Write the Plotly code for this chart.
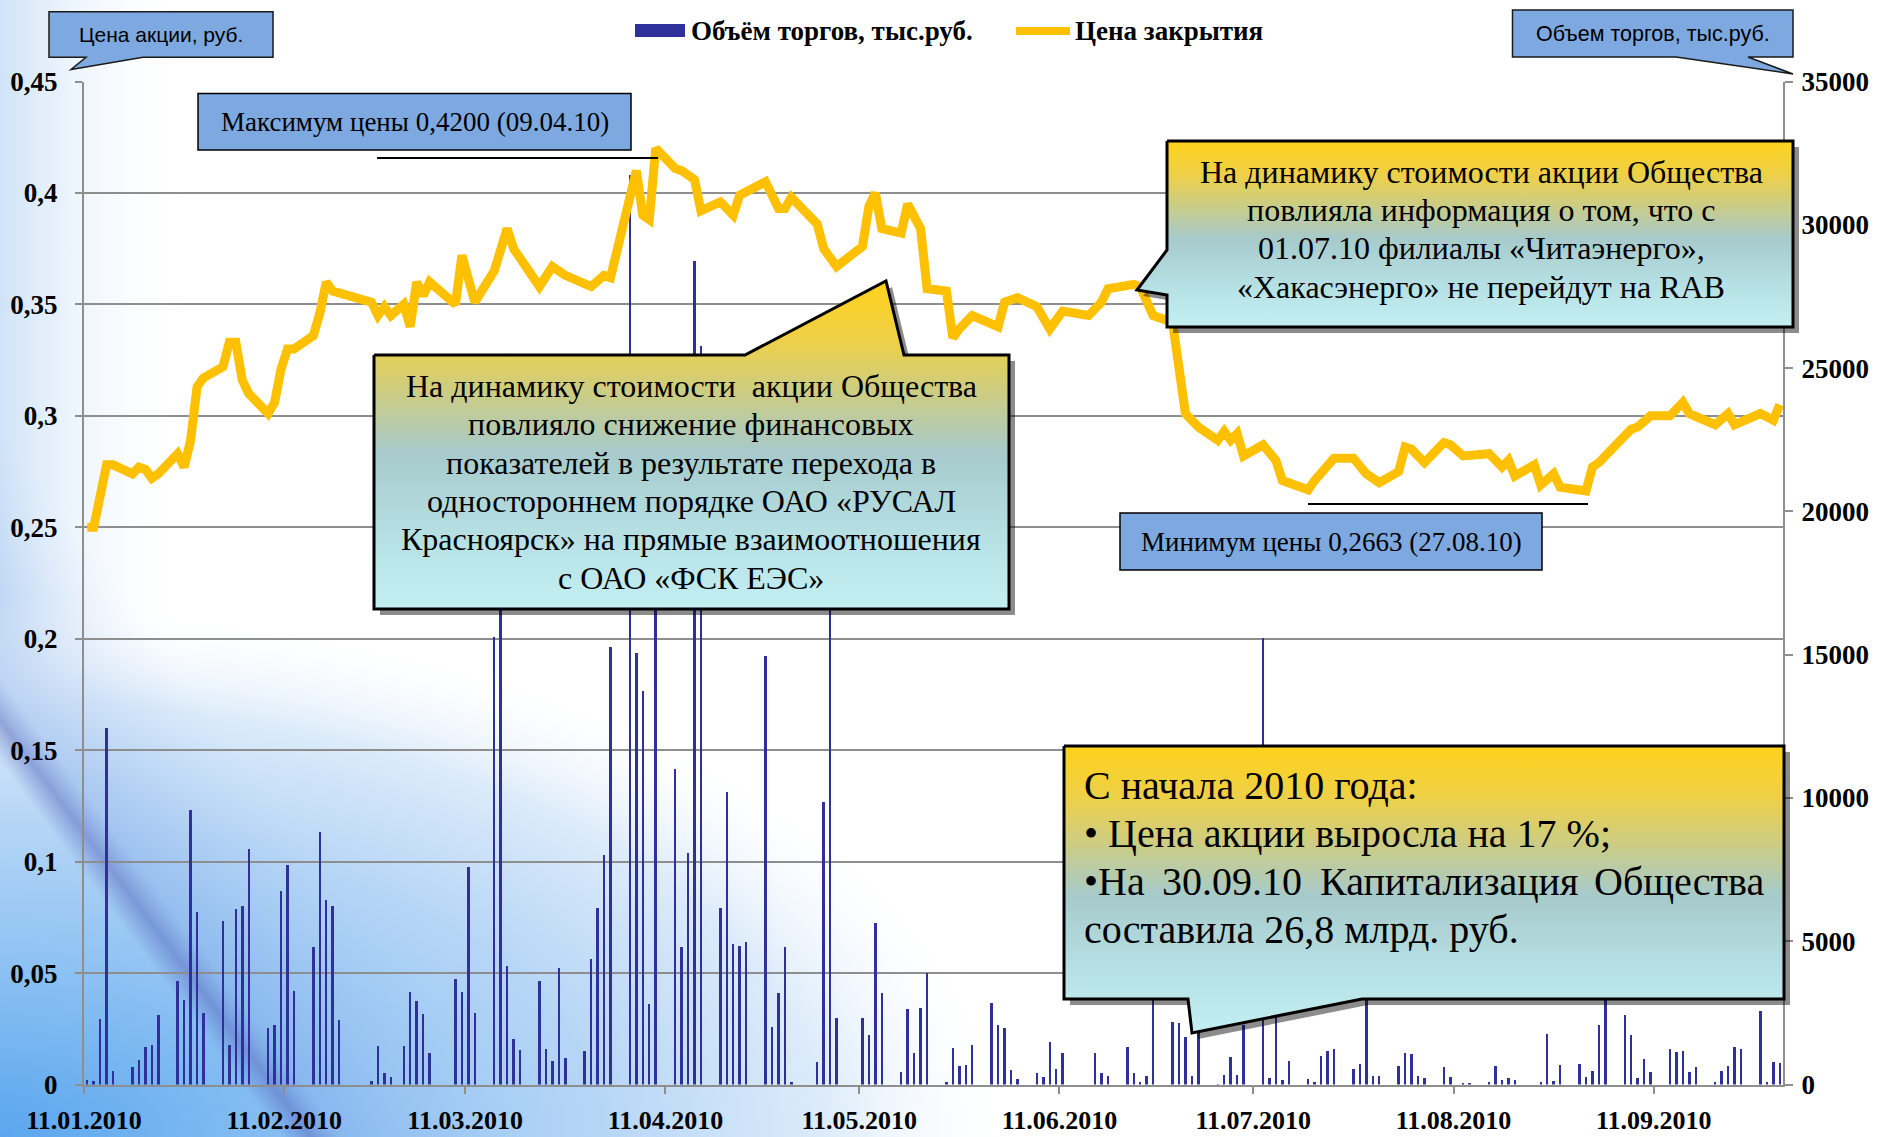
import base64
import plotly.graph_objects as go

# ---------------- data ----------------
price_dates = [
    "2010-01-11", "2010-01-12", "2010-01-14", "2010-01-15", "2010-01-18", "2010-01-19", "2010-01-20",
    "2010-01-21", "2010-01-22", "2010-01-25", "2010-01-26", "2010-01-27", "2010-01-28", "2010-01-29",
    "2010-02-01", "2010-02-02", "2010-02-03", "2010-02-04", "2010-02-05", "2010-02-08", "2010-02-09",
    "2010-02-10", "2010-02-11", "2010-02-12", "2010-02-15", "2010-02-16", "2010-02-17", "2010-02-18",
    "2010-02-24", "2010-02-25", "2010-02-26", "2010-02-27", "2010-03-01", "2010-03-02", "2010-03-03",
    "2010-03-04", "2010-03-05", "2010-03-09", "2010-03-10", "2010-03-12", "2010-03-15", "2010-03-17",
    "2010-03-18", "2010-03-22", "2010-03-24", "2010-03-26", "2010-03-30", "2010-04-01", "2010-04-02",
    "2010-04-06", "2010-04-07", "2010-04-08", "2010-04-09", "2010-04-12", "2010-04-13", "2010-04-15",
    "2010-04-16", "2010-04-19", "2010-04-21", "2010-04-22", "2010-04-26", "2010-04-28", "2010-04-29",
    "2010-04-30", "2010-05-04", "2010-05-05", "2010-05-07", "2010-05-11", "2010-05-12", "2010-05-13",
    "2010-05-14", "2010-05-17", "2010-05-18", "2010-05-20", "2010-05-21", "2010-05-24", "2010-05-25",
    "2010-05-26", "2010-05-28", "2010-06-01", "2010-06-02", "2010-06-04", "2010-06-07", "2010-06-09",
    "2010-06-11", "2010-06-15", "2010-06-17", "2010-06-18", "2010-06-22", "2010-06-23", "2010-06-25",
    "2010-06-28", "2010-06-30", "2010-07-02", "2010-07-05", "2010-07-06", "2010-07-07", "2010-07-08",
    "2010-07-09", "2010-07-12", "2010-07-14", "2010-07-15", "2010-07-19", "2010-07-20", "2010-07-23",
    "2010-07-26", "2010-07-28", "2010-07-30", "2010-08-02", "2010-08-03", "2010-08-04", "2010-08-06",
    "2010-08-09", "2010-08-10", "2010-08-12", "2010-08-16", "2010-08-18", "2010-08-19", "2010-08-20",
    "2010-08-23", "2010-08-24", "2010-08-26", "2010-08-27", "2010-08-30", "2010-08-31", "2010-09-01",
    "2010-09-02", "2010-09-07", "2010-09-08", "2010-09-10", "2010-09-13", "2010-09-15", "2010-09-16",
    "2010-09-20", "2010-09-22", "2010-09-23", "2010-09-27", "2010-09-29", "2010-09-30",
]
price_values = [
    0.250, 0.250, 0.278, 0.278, 0.274, 0.277, 0.276,
    0.272, 0.274, 0.283, 0.277, 0.289, 0.313, 0.317,
    0.322, 0.333, 0.333, 0.316, 0.310, 0.301, 0.306,
    0.321, 0.330, 0.330, 0.336, 0.346, 0.360, 0.356,
    0.351, 0.345, 0.349, 0.345, 0.350, 0.340, 0.360,
    0.354, 0.360, 0.350, 0.372, 0.351, 0.365, 0.384,
    0.375, 0.358, 0.367, 0.363, 0.358, 0.363, 0.362,
    0.410, 0.390, 0.388, 0.420, 0.411, 0.410, 0.406,
    0.392, 0.396, 0.390, 0.399, 0.405, 0.393, 0.393,
    0.398, 0.386, 0.375, 0.367, 0.376, 0.394, 0.400,
    0.384, 0.382, 0.395, 0.384, 0.357, 0.356, 0.335,
    0.339, 0.345, 0.340, 0.351, 0.353, 0.349, 0.339,
    0.347, 0.345, 0.351, 0.357, 0.359, 0.358, 0.345,
    0.342, 0.301, 0.295, 0.289, 0.293, 0.289, 0.292,
    0.282, 0.287, 0.280, 0.271, 0.2668, 0.271, 0.281,
    0.281, 0.274, 0.270, 0.275, 0.286, 0.285, 0.279,
    0.288, 0.287, 0.282, 0.283, 0.277, 0.280, 0.273,
    0.278, 0.269, 0.274, 0.268, 0.267, 0.2663, 0.277,
    0.279, 0.294, 0.295, 0.300, 0.300, 0.306, 0.301,
    0.296, 0.301, 0.296, 0.301, 0.298, 0.305,
]

volume_dates = [
    "2010-01-11", "2010-01-12", "2010-01-13", "2010-01-14", "2010-01-15", "2010-01-18", "2010-01-19",
    "2010-01-20", "2010-01-21", "2010-01-22", "2010-01-25", "2010-01-26", "2010-01-27", "2010-01-28",
    "2010-01-29", "2010-02-01", "2010-02-02", "2010-02-03", "2010-02-04", "2010-02-05", "2010-02-08",
    "2010-02-09", "2010-02-10", "2010-02-11", "2010-02-12", "2010-02-15", "2010-02-16", "2010-02-17",
    "2010-02-18", "2010-02-19", "2010-02-24", "2010-02-25", "2010-02-26", "2010-02-27", "2010-03-01",
    "2010-03-02", "2010-03-03", "2010-03-04", "2010-03-05", "2010-03-09", "2010-03-10", "2010-03-11",
    "2010-03-12", "2010-03-15", "2010-03-16", "2010-03-17", "2010-03-18", "2010-03-19", "2010-03-22",
    "2010-03-23", "2010-03-24", "2010-03-25", "2010-03-26", "2010-03-29", "2010-03-30", "2010-03-31",
    "2010-04-01", "2010-04-02", "2010-04-05", "2010-04-06", "2010-04-07", "2010-04-08", "2010-04-09",
    "2010-04-12", "2010-04-13", "2010-04-14", "2010-04-15", "2010-04-16", "2010-04-19", "2010-04-20",
    "2010-04-21", "2010-04-22", "2010-04-23", "2010-04-26", "2010-04-27", "2010-04-28", "2010-04-29",
    "2010-04-30", "2010-05-04", "2010-05-05", "2010-05-06", "2010-05-07", "2010-05-11", "2010-05-12",
    "2010-05-13", "2010-05-14", "2010-05-17", "2010-05-18", "2010-05-19", "2010-05-20", "2010-05-21",
    "2010-05-24", "2010-05-25", "2010-05-26", "2010-05-27", "2010-05-28", "2010-05-31", "2010-06-01",
    "2010-06-02", "2010-06-03", "2010-06-04", "2010-06-07", "2010-06-08", "2010-06-09", "2010-06-10",
    "2010-06-11", "2010-06-16", "2010-06-17", "2010-06-18", "2010-06-21", "2010-06-22", "2010-06-23",
    "2010-06-24", "2010-06-25", "2010-06-28", "2010-06-29", "2010-06-30", "2010-07-01", "2010-07-02",
    "2010-07-05", "2010-07-06", "2010-07-07", "2010-07-08", "2010-07-09", "2010-07-12", "2010-07-13",
    "2010-07-14", "2010-07-15", "2010-07-16", "2010-07-19", "2010-07-20", "2010-07-21", "2010-07-22",
    "2010-07-23", "2010-07-26", "2010-07-27", "2010-07-28", "2010-07-29", "2010-07-30", "2010-08-02",
    "2010-08-03", "2010-08-04", "2010-08-05", "2010-08-06", "2010-08-09", "2010-08-10", "2010-08-12",
    "2010-08-13", "2010-08-16", "2010-08-17", "2010-08-18", "2010-08-19", "2010-08-20", "2010-08-24",
    "2010-08-25", "2010-08-26", "2010-08-27", "2010-08-30", "2010-08-31", "2010-09-01", "2010-09-02",
    "2010-09-03", "2010-09-06", "2010-09-07", "2010-09-08", "2010-09-09", "2010-09-10", "2010-09-13",
    "2010-09-14", "2010-09-15", "2010-09-16", "2010-09-17", "2010-09-20", "2010-09-21", "2010-09-22",
    "2010-09-23", "2010-09-24", "2010-09-27", "2010-09-28", "2010-09-29", "2010-09-30",
]
volume_values = [
    175, 150, 2300, 12450, 500, 640, 870,
    1340, 1400, 2440, 3640, 2950, 9580, 6020,
    2500, 5740, 1400, 6130, 6230, 8240, 1980,
    2100, 6780, 7690, 3290, 4810, 8820, 6440,
    6230, 2270, 150, 1370, 430, 270, 1350,
    3260, 2930, 2480, 1100, 3690, 3260, 7600,
    2500, 15650, 20000, 4160, 1600, 1220, 3630,
    1250, 850, 4100, 930, 1190, 4390, 6170,
    8010, 15270, 31750, 15070, 13760, 2820, 21000,
    11030, 4800, 8090, 28750, 25800, 6190, 10240,
    4920, 4850, 4980, 14960, 2040, 3200, 4810,
    120, 820, 9890, 18000, 2330, 2350, 1750,
    5650, 3220, 470, 2650, 1130, 2700, 3920,
    120, 1280, 660, 700, 1400, 2850, 2100,
    1980, 520, 200, 410, 290, 1510, 550,
    1100, 1130, 410, 310, 1340, 430, 120,
    310, 3500, 2210, 2180, 1690, 310, 1800,
    20, 350, 960, 350, 2100, 15600, 260,
    2390, 175, 850, 200, 90, 1010, 1190,
    1260, 550, 730, 3300, 310, 310, 660,
    1130, 1070, 310, 230, 640, 290, 60,
    60, 90, 680, 175, 230, 175, 90,
    1770, 140, 700, 720, 290, 500, 2090,
    3400, 2440, 1750, 230, 900, 470, 1260,
    1160, 1190, 470, 640, 90, 490, 680,
    1310, 1260, 2580, 120, 790, 760,
]

date_ticks = ["2010-01-11", "2010-02-11", "2010-03-11", "2010-04-11", "2010-05-11",
              "2010-06-11", "2010-07-11", "2010-08-11", "2010-09-11"]
date_tick_labels = ["11.01.2010", "11.02.2010", "11.03.2010", "11.04.2010", "11.05.2010",
                    "11.06.2010", "11.07.2010", "11.08.2010", "11.09.2010"]
price_ticks = [0, 0.05, 0.1, 0.15, 0.2, 0.25, 0.3, 0.35, 0.4, 0.45]
price_tick_labels = ["0", "0,05", "0,1", "0,15", "0,2", "0,25", "0,3", "0,35", "0,4", "0,45"]
volume_ticks = [0, 5000, 10000, 15000, 20000, 25000, 30000, 35000]
volume_tick_labels = ["0", "5000", "10000", "15000", "20000", "25000", "30000", "35000"]

series_names = ["Объём торгов, тыс.руб.", "Цена закрытия"]

# ---------------- styling ----------------
W, H = 1879, 1137
PL, PR, PT, PB = 84, 1783, 81.5, 1084.5
SERIF = "Liberation Serif, Times New Roman, serif"
SANS = "Liberation Sans, Arial, sans-serif"
GRID = "#8E8E8E"
BAR_COLOR = "#30309A"
LINE_COLOR = "#FFC000"
BOX_BLUE = "#7DA9E0"
DAY_MS = 86400000

GRAD = [[0.0, "#FFD21A"], [0.18, "#EED048"], [0.38, "#C4CC92"], [0.52, "#A7CACB"],
        [0.75, "#B4DEE2"], [1.0, "#C3EFF3"]]

fig = go.Figure()

fig.add_trace(go.Bar(
    x=volume_dates, y=volume_values, name=series_names[0],
    marker=dict(color=BAR_COLOR, line=dict(width=0)),
    width=0.38 * DAY_MS, xperiod=DAY_MS, xperiodalignment="middle",
    xaxis="x", yaxis="y", showlegend=False, hoverinfo="x+y",
))
fig.add_trace(go.Scatter(
    x=price_dates, y=price_values, name=series_names[1], mode="lines",
    line=dict(color=LINE_COLOR, width=9),
    xperiod=DAY_MS, xperiodalignment="middle",
    xaxis="x", yaxis="y2", showlegend=False,
))


def poly(pts, **kw):
    xs = [p[0] for p in pts] + [pts[0][0]]
    ys = [p[1] for p in pts] + [pts[0][1]]
    return go.Scatter(x=xs, y=ys, mode="lines", fill="toself", xaxis="x2", yaxis="y3",
                      hoverinfo="skip", showlegend=False, **kw)


callouts = [
    [(374, 355), (745, 355), (886, 281), (904, 355), (1009, 355), (1009, 609), (374, 609)],
    [(1167, 141), (1793, 141), (1793, 327), (1167, 327), (1167, 295), (1137, 290), (1167, 250)],
    [(1064, 746), (1784, 746), (1784, 999), (1362, 999), (1192, 1033), (1188, 999), (1064, 999)],
]
for pts in callouts:
    sh = [(x + 6, y + 6) for x, y in pts]
    fig.add_trace(poly(sh, line=dict(width=0, color="rgba(0,0,0,0)"), fillcolor="rgba(0,0,0,0.45)"))
    ys = [p[1] for p in pts]
    fig.add_trace(poly(pts, line=dict(color="#000000", width=3),
                       fillgradient=dict(type="vertical", colorscale=GRAD,
                                         start=min(ys), stop=max(ys))))

shapes = []
annotations = []


def ann(x, y, text, size, family=SERIF, xanchor="center", weight="normal", color="#000000"):
    annotations.append(dict(x=x, y=y, xref="x2", yref="y3", text=text, showarrow=False,
                            xanchor=xanchor, yanchor="middle",
                            font=dict(family=family, size=size, color=color, weight=weight)))


# small axis-title callouts
shapes.append(dict(type="path", xref="x2", yref="y3", layer="above",
                   path="M49,11.7 L273,11.7 L273,57.3 L143,57.3 L71,69.5 L86,57.3 L49,57.3 Z",
                   fillcolor=BOX_BLUE, line=dict(color="#1A1A1A", width=1.5)))
ann(161, 34, "Цена акции, руб.", 21, family=SANS)
shapes.append(dict(type="path", xref="x2", yref="y3", layer="above",
                   path="M1512.5,10 L1793,10 L1793,57 L1748,57 L1793,74 L1676,57 L1512.5,57 Z",
                   fillcolor=BOX_BLUE, line=dict(color="#1A1A1A", width=1.5)))
ann(1653, 33.5, "Объем торгов, тыс.руб.", 21.5, family=SANS)

# max / min boxes
shapes.append(dict(type="rect", xref="x2", yref="y3", layer="above", x0=198, y0=93.5, x1=631, y1=150,
                   fillcolor=BOX_BLUE, line=dict(color="#000000", width=1.5)))
ann(414.5, 122, "Максимум цены 0,4200 (09.04.10)", 27)
shapes.append(dict(type="line", xref="x2", yref="y3", layer="above", x0=377, y0=158, x1=658, y1=158,
                   line=dict(color="#000000", width=2)))
shapes.append(dict(type="rect", xref="x2", yref="y3", layer="above", x0=1120, y0=513, x1=1542, y1=570,
                   fillcolor=BOX_BLUE, line=dict(color="#000000", width=1.5)))
ann(1331, 541.5, "Минимум цены 0,2663 (27.08.10)", 27)
shapes.append(dict(type="line", xref="x2", yref="y3", layer="above", x0=1308, y0=504, x1=1588, y1=504,
                   line=dict(color="#000000", width=2)))

# legend
shapes.append(dict(type="rect", xref="x2", yref="y3", layer="above", x0=635, y0=24, x1=685, y1=37,
                   fillcolor=BAR_COLOR, line=dict(width=0)))
ann(689, 31, series_names[0], 27, xanchor="left", weight="bold")
shapes.append(dict(type="line", xref="x2", yref="y3", layer="above", x0=1016, y0=31, x1=1070, y1=31,
                   line=dict(color=LINE_COLOR, width=8)))
ann(1073, 31, series_names[1], 27, xanchor="left", weight="bold")

# callout texts
text_a = ["На динамику стоимости\u00a0 акции Общества", "повлияло снижение финансовых",
          "показателей в результате перехода в", "одностороннем порядке ОАО «РУСАЛ",
          "Красноярск» на прямые взаимоотношения", "с ОАО «ФСК ЕЭС»"]
for i, t in enumerate(text_a):
    ann(691, 386 + i * 38.3, t, 32)

text_b = ["На динамику стоимости акции Общества", "повлияла информация о том, что с",
          "01.07.10 филиалы «Читаэнерго»,", "«Хакасэнерго» не перейдут на RAB"]
for i, t in enumerate(text_b):
    ann(1481, 171.5 + i * 38.4, t, 32)

ann(1082, 785, "С начала 2010 года:", 40, xanchor="left")
ann(1082, 833, "• Цена акции выросла на 17 %;", 40, xanchor="left")
ann(1082, 881, "•На", 40, xanchor="left")
ann(1160, 881, "30.09.10", 40, xanchor="left")
ann(1318, 881, "Капитализация", 40, xanchor="left")
annotations.append(dict(x=1766, y=881, xref="x2", yref="y3", text="Общества", showarrow=False,
                        xanchor="right", yanchor="middle", font=dict(family=SERIF, size=40, color="#000")))
ann(1082, 929, "составила 26,8 млрд. руб.", 40, xanchor="left")

# background
bg_svg = f'''<svg xmlns="http://www.w3.org/2000/svg" width="{W}" height="{H}" viewBox="0 0 {W} {H}">
<defs>
<radialGradient id="r" gradientUnits="userSpaceOnUse" cx="0" cy="0" r="1"
  gradientTransform="matrix(1100 0 0 580 0 {H})">
<stop offset="0" stop-color="#5AA6EE" stop-opacity="1"/>
<stop offset="0.3" stop-color="#8EC2F3" stop-opacity="1"/>
<stop offset="0.55" stop-color="#B7D6F6" stop-opacity="1"/>
<stop offset="0.75" stop-color="#DCEBFA" stop-opacity="1"/>
<stop offset="0.93" stop-color="#FFFFFF" stop-opacity="0"/>
</radialGradient>
<linearGradient id="l" gradientUnits="userSpaceOnUse" x1="0" y1="0" x2="190" y2="0">
<stop offset="0" stop-color="#CFE3F8" stop-opacity="1"/>
<stop offset="1" stop-color="#FFFFFF" stop-opacity="0"/>
</linearGradient>
<linearGradient id="b" gradientUnits="userSpaceOnUse" x1="-20" y1="735" x2="140" y2="615.6">
<stop offset="0" stop-color="#5A6EC0" stop-opacity="0"/>
<stop offset="0.125" stop-color="#5A6EC0" stop-opacity="0.55"/>
<stop offset="0.25" stop-color="#7EA6E6" stop-opacity="0.35"/>
<stop offset="1" stop-color="#A8C8F0" stop-opacity="0"/>
</linearGradient>
</defs>
<rect width="{W}" height="{H}" fill="#FFFFFF"/>
<rect width="{W}" height="{H}" fill="url(#l)"/>
<rect width="{W}" height="{H}" fill="url(#r)"/>
<rect width="{W}" height="{H}" fill="url(#b)"/>
</svg>'''
bg_uri = "data:image/svg+xml;base64," + base64.b64encode(bg_svg.encode("utf-8")).decode("ascii")

xd = [PL / W, PR / W]
yd = [1 - PB / H, 1 - PT / H]
tickfont = dict(family=SERIF, size=27, color="#000000", weight="bold")

fig.update_layout(
    width=W, height=H,
    margin=dict(l=0, r=0, t=0, b=0, pad=0, autoexpand=False),
    paper_bgcolor="#FFFFFF",
    plot_bgcolor="rgba(0,0,0,0)",
    showlegend=False,
    bargap=0,
    images=[dict(source=bg_uri, xref="paper", yref="paper", x=0, y=1, sizex=1, sizey=1,
                 xanchor="left", yanchor="top", sizing="stretch", layer="below")],
    xaxis=dict(type="date", domain=xd, anchor="y", range=["2010-01-11", "2010-10-01"],
               tickmode="array", tickvals=date_ticks, ticktext=date_tick_labels,
               ticks="outside", ticklen=7, tickwidth=2, tickcolor=GRID,
               showline=True, linecolor=GRID, linewidth=2, showgrid=False, zeroline=False,
               tickfont=dict(family=SERIF, size=26, color="#000000", weight="bold"),
               ticklabelstandoff=4, fixedrange=True, automargin=False),
    yaxis=dict(domain=yd, anchor="x", side="right", range=[0, 35000],
               tickmode="array", tickvals=volume_ticks, ticktext=volume_tick_labels,
               ticks="outside", ticklen=8, tickwidth=2, tickcolor=GRID,
               showline=True, linecolor=GRID, linewidth=2, showgrid=False, zeroline=False,
               tickfont=tickfont, ticklabelstandoff=3, fixedrange=True, automargin=False),
    yaxis2=dict(overlaying="y", anchor="x", side="left", range=[0, 0.45],
                tickmode="array", tickvals=price_ticks, ticktext=price_tick_labels,
                ticks="outside", ticklen=7, tickwidth=2, tickcolor=GRID,
                showline=True, linecolor=GRID, linewidth=2,
                showgrid=True, gridcolor=GRID, gridwidth=2, zeroline=False,
                tickfont=tickfont, ticklabelstandoff=12, fixedrange=True, automargin=False),
    xaxis2=dict(domain=[0, 1], anchor="y3", range=[0, W], visible=False, fixedrange=True,
                automargin=False),
    yaxis3=dict(domain=[0, 1], anchor="x2", range=[H, 0], visible=False, fixedrange=True,
                automargin=False),
    shapes=shapes,
    annotations=annotations,
)

fig.write_html("out.html", config={"displayModeBar": False},
               post_script="document.body.style.margin='0';document.body.style.overflow='hidden';")
